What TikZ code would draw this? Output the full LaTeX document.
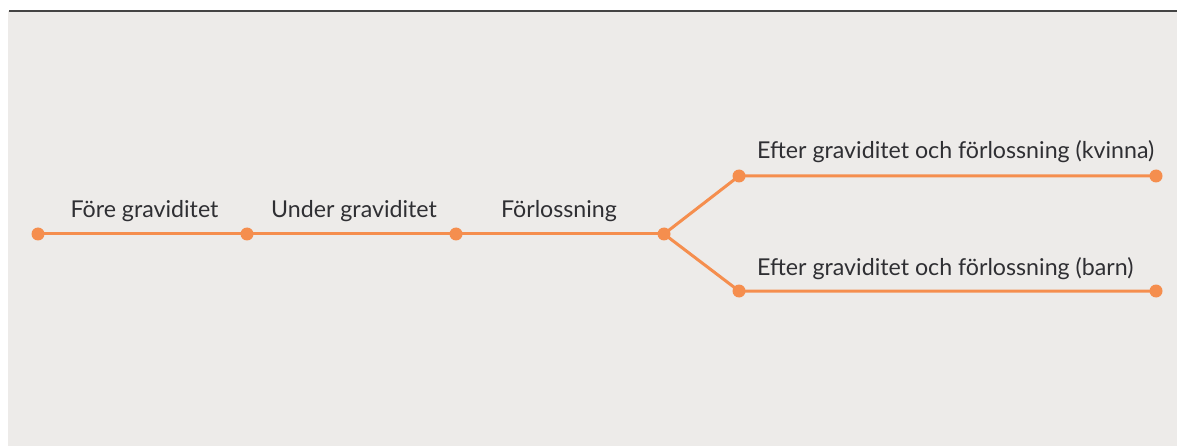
\documentclass[tikz,border=0pt]{standalone}
\usepackage{fontspec}
\setmainfont{Lato}
\definecolor{bg}{HTML}{EDEBE9}
\definecolor{tl}{HTML}{F58E4E}
\definecolor{txt}{HTML}{2F2F33}
\definecolor{topline}{HTML}{444444}
\begin{document}
\begin{tikzpicture}[x=1pt,y=-1pt,
  dot/.style={circle,fill=tl,inner sep=0pt,minimum size=13pt},
  seg/.style={draw=tl,line width=3pt},
  lbl/.style={text=txt,font=\fontsize{23.2}{27}\selectfont,inner sep=0pt,anchor=base}]
\useasboundingbox (0,0) rectangle (1177,446);
\fill[white] (0,0) rectangle (1177,446);
\fill[bg] (8,11) rectangle (1177,446);
\draw[topline,line width=2.5pt] (9,11) -- (1177,11);
\node[dot] (a) at (38,234) {};
\node[dot] (b) at (247,234) {};
\node[dot] (c) at (456,234) {};
\node[dot] (d) at (664,234) {};
\node[dot] (e) at (739,176) {};
\node[dot] (f) at (1156,176) {};
\node[dot] (g) at (739,291) {};
\node[dot] (h) at (1156,291) {};
\draw[seg] (a.center) -- (b.center) -- (c.center) -- (d.center);
\draw[seg] (d.center) -- (e.center) -- (f.center);
\draw[seg] (d.center) -- (g.center) -- (h.center);
\node[lbl] (l1) at (144.5,218) {Före graviditet};
\node[lbl] (l2) at (354,218) {Under graviditet};
\node[lbl] (l3) at (559,218) {Förlossning};
\node[lbl,anchor=base west] (l4) at (757,159) {Efter graviditet och förlossning (kvinna)};
\node[lbl,anchor=base west] (l5) at (757,275) {Efter graviditet och förlossning (barn)};
\end{tikzpicture}
\end{document}
